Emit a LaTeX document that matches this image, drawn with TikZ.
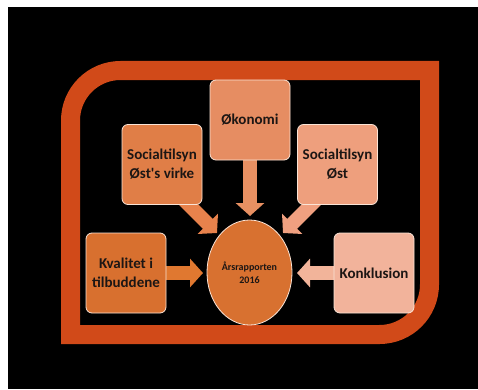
\documentclass[tikz,border=0pt]{standalone}
\usepackage{fontspec}
\setmainfont{Carlito}[Ligatures=TeXOff]
\usetikzlibrary{arrows.meta,shapes.geometric,backgrounds}
\definecolor{framec}{RGB}{209,74,25}
\definecolor{boxline}{RGB}{250,228,214}
\definecolor{txt}{RGB}{28,22,20}
\definecolor{ckval}{RGB}{216,112,47}
\definecolor{csvv}{RGB}{224,126,71}
\definecolor{coko}{RGB}{230,141,98}
\definecolor{cso}{RGB}{238,159,125}
\definecolor{ckonk}{RGB}{242,179,155}
\definecolor{ccirc}{RGB}{216,113,48}
\definecolor{akval}{RGB}{224,120,48}
\definecolor{asvv}{RGB}{232,130,76}
\definecolor{aoko}{RGB}{232,144,98}
\definecolor{aso}{RGB}{240,160,128}
\definecolor{akonk}{RGB}{242,180,154}
\begin{document}
\begin{tikzpicture}[x=1pt,y=1pt,
  box/.style={draw=boxline, line width=0.8pt, rounded corners=6pt,
    minimum width=80pt, minimum height=80pt, inner sep=0pt, align=center,
    text=txt, font=\fontsize{15}{19}\selectfont\bfseries},
  bigarr/.style={line width=14pt, -{Triangle[length=13pt,width=28pt]}}]
\useasboundingbox (0,0) rectangle (478,389);
% nodes
\node[box, fill=coko] (oko) at (250,269) {Økonomi};
\node[box, fill=csvv] (svv) at (162,224.5) {Socialtilsyn\\Øst's virke};
\node[box, fill=cso] (so) at (337.5,224.5) {Socialtilsyn\\Øst};
\node[box, fill=ckval] (kval) at (126,116) {Kvalitet i\\tilbuddene};
\node[box, fill=ckonk] (konk) at (374,116) {Konklusion};
\node[ellipse, draw=boxline, line width=0.8pt, fill=ccirc, minimum width=85pt,
  minimum height=105pt, inner sep=0pt, align=center, text=txt,
  font=\fontsize{10}{13.5}\selectfont\bfseries] (circ) at (249.5,116.5) {Årsrapporten\\2016};
\coordinate (tK) at (203,116);
\coordinate (tC) at (297,116);
\coordinate (tO) at (250,173);
\coordinate (tL) at (217,156);
\coordinate (sL) at (157,216);
\coordinate (tR) at (283,156);
\coordinate (sR) at (343,216);
\begin{pgfonlayer}{background}
\fill[white] (0,0) rectangle (478,389);
\fill[black] (8,0) rectangle (478,382);
\draw[framec, line width=19pt, line join=miter]
  (70.5,54.5) -- (70.5,268.5) arc[start angle=180,end angle=90,radius=50]
  -- (429.5,318.5) -- (429.5,104.5) arc[start angle=0,end angle=-90,radius=50]
  -- cycle;
\draw[bigarr, akval] (kval) -- (tK);
\draw[bigarr, akonk] (konk) -- (tC);
\draw[bigarr, aoko] (oko) -- (tO);
\draw[bigarr, asvv] (sL) -- (tL);
\draw[bigarr, aso] (sR) -- (tR);
\end{pgfonlayer}
\end{tikzpicture}
\end{document}
